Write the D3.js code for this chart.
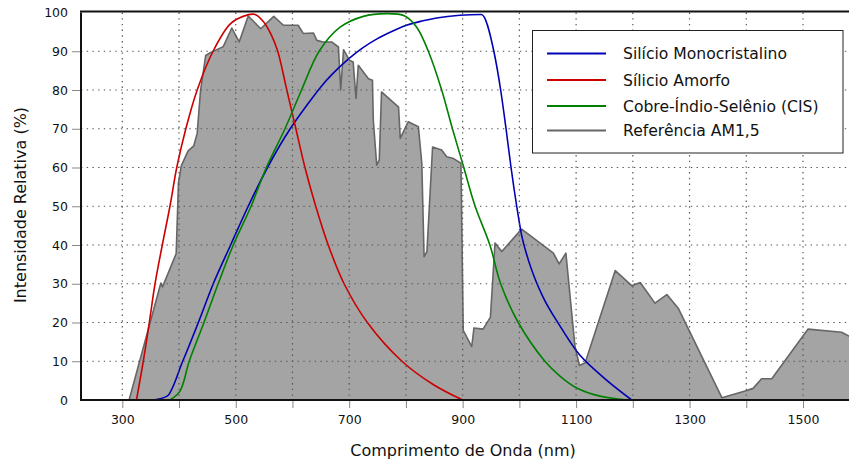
<!DOCTYPE html>
<html><head><meta charset="utf-8">
<script src="https://cdn.jsdelivr.net/npm/d3@7"></script>
<style>
html,body{margin:0;padding:0;background:#fff;}
svg{display:block;font-family:"DejaVu Sans",sans-serif;}
</style></head>
<body><svg id="c" width="849" height="463"></svg>
<script>
// ---- data ----
const refNm  = [312,368,371,395,399,404,416,426,432,438,447,455,478,493,506,522,544,567,584,610,619,637,643,654,669,681,685,690,701,707,712,716,734,741,742.5,748.5,753,757,787,790,804,822,828,832,837,847,863,872,884,897,901,916,920,936,949,957,969,1004,1060,1070,1082,1098,1106,1116,1169,1198,1213,1239,1260,1280,1357,1398,1412,1427,1445,1509,1568,1600];
const refVal = [0,30.2,29.2,37.8,56,60.4,64.3,65.6,68.8,80,88.9,89.6,91.2,96,92.4,99.1,95.8,99,96.7,96.7,94.6,94.7,92.8,92.4,92.4,91.1,80,90.4,87.6,87.2,77.8,86.4,82.9,82.5,72.2,60.6,61.9,79.5,75.6,67.5,71.8,70.5,61.1,37,38.3,65.3,64.5,62.8,62.3,61.1,18,13.8,18.6,18.3,21.4,40.5,38.3,44.1,37.9,35.1,37.9,13.8,8.9,9.6,33.4,29.5,30.3,25,27.2,23.7,0.6,2.3,3,5.5,5.5,18.3,17.5,15];

const monoNm  = [355,379,406.5,434,460.4,491,522,556,596,625,654,680,701,725,749,775,801,828,854,895,933,955,967,976.5,985.3,995.3,1004,1014,1027,1042,1072,1101,1142,1198];
const monoVal = [0,1,10,20,30,40,50,60,70,76,81.5,85.5,88.3,91,93.2,95.1,96.7,97.8,98.6,99.3,99.5,90,80,70,60,50,42.5,37,31.5,26.5,19,12.6,6.6,0];

const amorfoNm  = [325,337,347.6,357.7,370.5,384,396,412,432,460,490,513,534,549,562,574,590,606,622,641,663,691,732,793,848,900];
const amorfoVal = [0,10,20,30,40,50,60,70,80,90,97,99,99.5,97.6,94.4,90,80,70,60,50,40,30,20,10,4,0];

const cisNm  = [384,401.7,418,444,469,495.7,527,554,586.8,616,647,684,725,766,798,819,839.5,863,882,902,922,948,967,998,1045,1072,1101,1142,1190];
const cisVal = [0,2.3,10,20,30,40,50,60,70,80,90,96.2,99,99.7,99.1,96.2,90,80,70,60,50,40,30,20,10,6.1,3.1,1,0];

const yTicks = [0,10,20,30,40,50,60,70,80,90,100];
const xTicks = [300,400,500,600,700,800,900,1000,1100,1200,1300,1400,1500];
const xLabeled = [300,500,700,900,1100,1300,1500];

const seriesNames = ["Silício Monocristalino","Sílicio Amorfo","Cobre-Índio-Selênio (CIS)","Referência AM1,5"];
const seriesColors = ["#0000b4","#cc0000","#008000","#666666"];

// ---- layout ----
const L = 81, T = 12.5, B = 400, R = 849;
const svg = d3.select("#c");
const x = d3.scaleLinear().domain([300,1500]).range([122.3,803]);
const y = d3.scaleLinear().domain([0,100]).range([B,T]);

svg.append("defs").append("clipPath").attr("id","clip")
  .append("rect").attr("x",L).attr("y",T-2).attr("width",R-L+5).attr("height",B-T+2);

const zip = (a,b)=>a.map((v,i)=>[v,b[i]]);

// reference area
const ref = zip(refNm, refVal);
const g = svg.append("g").attr("clip-path","url(#clip)");
g.append("path").datum(ref)
  .attr("d", d3.area().x(d=>x(d[0])).y0(y(0)).y1(d=>y(d[1])))
  .attr("fill","#a4a4a4").attr("stroke","none");
g.append("path").datum(ref)
  .attr("d", d3.line().x(d=>x(d[0])).y(d=>y(d[1])))
  .attr("fill","none").attr("stroke","#666666").attr("stroke-width",1.6).attr("stroke-linejoin","round");

// grid
const grid = svg.append("g").attr("stroke","#555").attr("stroke-width",1.2).attr("stroke-dasharray","1.4,4.3");
xTicks.forEach(t=>grid.append("line").attr("x1",x(t)).attr("x2",x(t)).attr("y1",T).attr("y2",B));
yTicks.filter(t=>t>0&&t<100).forEach(t=>grid.append("line").attr("x1",L).attr("x2",R).attr("y1",y(t)).attr("y2",y(t)));

// curves
const smooth = d3.line().x(d=>x(d[0])).y(d=>y(d[1])).curve(d3.curveCatmullRom.alpha(0.5));
const mono = d3.line().x(d=>x(d[0])).y(d=>y(d[1])).curve(d3.curveMonotoneX);
[[monoNm,monoVal,0,mono],[amorfoNm,amorfoVal,1,smooth],[cisNm,cisVal,2,smooth]].forEach(([a,b,i,gen])=>{
  g.append("path").datum(zip(a,b)).attr("d",gen)
   .attr("fill","none").attr("stroke",seriesColors[i]).attr("stroke-width",1.6);
});

// axes
const xAxis = d3.axisBottom(x).tickValues(xTicks).tickSize(8)
  .tickFormat(d=> xLabeled.includes(d) ? String(d) : "");
const xa = svg.append("g").attr("transform",`translate(0,${B})`).call(xAxis);
xa.select(".domain").remove();
xa.selectAll(".tick line").attr("stroke","#888");
xa.selectAll(".tick text").attr("y",24).attr("dy",0).attr("font-size","12.5px")
  .attr("font-family","DejaVu Sans").attr("fill","#111");

const yAxis = d3.axisLeft(y).tickValues(yTicks).tickSize(9).tickPadding(4);
const ya = svg.append("g").attr("transform",`translate(${L},0)`).call(yAxis);
ya.select(".domain").remove();
ya.selectAll(".tick line").attr("stroke","#888").attr("opacity",d=> (d===0||d===100)?0:1);
ya.selectAll(".tick text").attr("font-size","12.5px").attr("font-family","DejaVu Sans").attr("fill","#111");

// spines
svg.append("line").attr("x1",L).attr("x2",L).attr("y1",T).attr("y2",B).attr("stroke","#111").attr("stroke-width",2);
svg.append("line").attr("x1",L-1).attr("x2",R+2).attr("y1",T-1).attr("y2",T-1).attr("stroke","#111").attr("stroke-width",2);
svg.append("line").attr("x1",L-1).attr("x2",R+2).attr("y1",B).attr("y2",B).attr("stroke","#111").attr("stroke-width",2);

// axis titles
svg.append("text").attr("x",463).attr("y",456).attr("text-anchor","middle")
  .attr("font-size","16px").attr("fill","#111").text("Comprimento de Onda (nm)");
svg.append("text").attr("transform","translate(25.5,205) rotate(-90)").attr("text-anchor","middle")
  .attr("font-size","16px").attr("fill","#111").text("Intensidade Relativa (%)");

// legend
const lg = svg.append("g");
lg.append("rect").attr("x",532.5).attr("y",30.5).attr("width",310.5).attr("height",122.5)
  .attr("fill","#fff").attr("stroke","#222").attr("stroke-width",1);
const ly = [53.5,80,106,130.5];
seriesNames.forEach((n,i)=>{
  lg.append("line").attr("x1",547).attr("x2",606).attr("y1",ly[i]).attr("y2",ly[i])
    .attr("stroke",seriesColors[i]).attr("stroke-width",2);
  lg.append("text").attr("x",623).attr("y",ly[i]).attr("dy","0.36em")
    .attr("font-size","15.6px").attr("fill","#111").text(n);
});
</script></body></html>
